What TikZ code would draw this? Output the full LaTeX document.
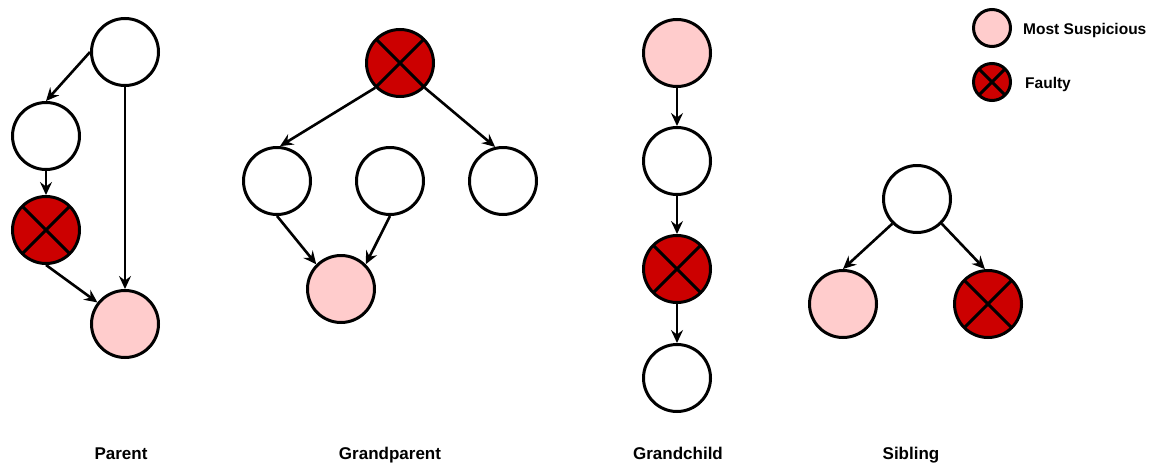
\documentclass[tikz,border=0pt]{standalone}
\usepackage{fontspec}
\setmainfont{Liberation Sans}
\usetikzlibrary{arrows.meta}
\definecolor{susppink}{HTML}{FFCCCC}
\definecolor{faultred}{HTML}{CC0000}
\tikzstyle{vertex}=[draw,circle,line width=3pt,minimum size=67pt,inner sep=0pt,fill=white]
\tikzstyle{small}=[minimum size=37pt]
\tikzstyle{susp}=[fill=susppink]
\tikzstyle{fault}=[fill=faultred,path picture={
  \draw[line width=3pt] (path picture bounding box.north west) -- (path picture bounding box.south east)
    (path picture bounding box.north east) -- (path picture bounding box.south west);}]
\tikzstyle{edge}=[-{Stealth[length=13pt,width=12pt,inset=4.5pt]},line width=2.6pt]
\tikzstyle{heading}=[font=\bfseries\fontsize{17}{20}\selectfont,anchor=base]
\tikzstyle{keytext}=[font=\bfseries\fontsize{15.5}{18}\selectfont,anchor=base west,inner sep=0pt]

\begin{document}
\begin{tikzpicture}[x=1pt,y=-1pt]
\useasboundingbox (0,0) rectangle (1153,466);
% parent
\begin{scope}
    \node [vertex] (p1) at (125,52) {};
    \node [vertex] (p2) at (46,136) {};
    \node [vertex,fault] (p3) at (46,230) {};
    \node [vertex,susp] (p4) at (125,324) {};
    \draw [edge] (p1.west) -- (p2.north);
    \draw [edge] (p2.south) -- (p3.north);
    \draw [edge] (p3.south) -- (p4.142);
    \draw [edge] (p1.south) -- (p4.north);
    \node [heading] (tp) at (121,459) {Parent};
\end{scope}
% grandparent
\begin{scope}
    \node [vertex,fault] (g0) at (400,63) {};
    \node [vertex] (g1) at (277,181) {};
    \node [vertex] (g2) at (390,181) {};
    \node [vertex] (g3) at (503,181) {};
    \node [vertex,susp] (g4) at (341,289) {};
    \draw [edge] (g0.south west) -- (g1.85);
    \draw [edge] (g0.south east) -- (g3.103);
    \draw [edge] (g1.south) -- (g4.north west);
    \draw [edge] (g2.south) -- (g4.north east);
    \node [heading] (tg) at (390,459) {Grandparent};
\end{scope}
% grandchild
\begin{scope}
    \node [vertex,susp] (c1) at (677,53) {};
    \node [vertex] (c2) at (677,161) {};
    \node [vertex,fault] (c3) at (677,269) {};
    \node [vertex] (c4) at (677,378) {};
    \draw [edge] (c1.south) -- (c2.north);
    \draw [edge] (c2.south) -- (c3.north);
    \draw [edge] (c3.south) -- (c4.north);
    \node [heading] (tc) at (678,459) {Grandchild};
\end{scope}
% sibling
\begin{scope}
    \node [vertex] (s1) at (917,199) {};
    \node [vertex,susp] (s2) at (843,304) {};
    \node [vertex,fault] (s3) at (988,304) {};
    \draw [edge] (s1.south west) -- (s2.north);
    \draw [edge] (s1.south east) -- (s3.95);
    \node [heading] (ts) at (911,459) {Sibling};
\end{scope}
% legend
\node [vertex,small,susp] (k1) at (992,28) {};
\node [vertex,small,fault] (k2) at (992,82) {};
\node [keytext] (k1t) at (1023,34) {Most Suspicious};
\node [keytext] (k2t) at (1025,88) {Faulty};
\end{tikzpicture}
\end{document}
